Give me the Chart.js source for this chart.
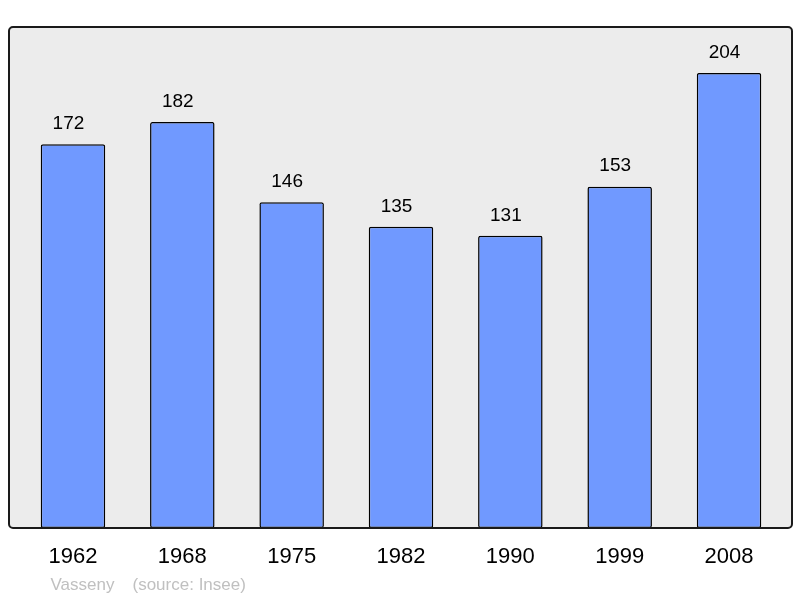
<!DOCTYPE html>
<html>
<head>
<meta charset="utf-8">
<script src="https://cdn.jsdelivr.net/npm/chart.js@4"></script>
<style>
  html, body { margin: 0; padding: 0; background: #ffffff; }
  #wrap { width: 800px; height: 598px; }
</style>
</head>
<body>
<div id="wrap"><canvas id="myChart" width="800" height="598"></canvas></div>
<script>
const ctx = document.querySelector('#myChart');

const years = ['1962', '1968', '1975', '1982', '1990', '1999', '2008'];
const population = [172, 182, 146, 135, 131, 153, 204];
const placeName = 'Vasseny';
const sourceName = '(source: Insee)';

const COLOR_BAR = '#7099ff';
const COLOR_PANEL = '#ececec';
const COLOR_BORDER = '#1a1a1a';
const Y_MAX_SCALE = 224.6;
const FONT = '"Liberation Sans", Arial, sans-serif';

/**
 * Draws the grey panel behind the bars, its frame, the value labels
 * and the source line.
 */
const panelPlugin = {
  id: 'panel',
  beforeDatasetsDraw(chart) {
    const c = chart.ctx;
    const area = chart.chartArea;
    c.save();
    c.beginPath();
    c.roundRect(9, area.top, 783, area.height, 4);
    c.fillStyle = COLOR_PANEL;
    c.fill();
    c.restore();
  },
  afterDatasetsDraw(chart) {
    const c = chart.ctx;
    const area = chart.chartArea;
    c.save();
    c.beginPath();
    c.roundRect(9, area.top, 783, area.height, 4);
    c.lineWidth = 2;
    c.strokeStyle = COLOR_BORDER;
    c.stroke();

    // value labels above the bars (sit a little left of the bar centre)
    const meta = chart.getDatasetMeta(0);
    c.fillStyle = '#000000';
    c.font = '19px ' + FONT;
    c.textAlign = 'center';
    c.textBaseline = 'middle';
    meta.data.forEach((bar, i) => {
      c.fillText(String(population[i]), bar.x - 4.5, bar.y - 20.5);
    });

    // source line
    c.fillStyle = '#c0c0c0';
    c.font = '17px ' + FONT;
    c.textAlign = 'left';
    c.textBaseline = 'alphabetic';
    c.fillText(placeName, 50.5, 590);
    c.fillText(sourceName, 132.5, 590);
    c.restore();
  },
};

new Chart(ctx, {
  type: 'bar',
  data: {
    labels: years,
    datasets: [
      {
        data: population,
        backgroundColor: COLOR_BAR,
        borderColor: '#000000',
        borderWidth: 1.5,
        borderRadius: 2,
        borderSkipped: false,
        barPercentage: 0.59,
        categoryPercentage: 1,
      },
    ],
  },
  options: {
    responsive: false,
    animation: false,
    layout: {
      padding: {left: 18.3, right: 16.3, top: 27, bottom: 0},
    },
    plugins: {
      legend: {display: false},
      tooltip: {enabled: false},
    },
    scales: {
      x: {
        grid: {display: false, drawTicks: false},
        border: {display: false},
        ticks: {
          color: '#000000',
          padding: 16,
          font: {size: 22, family: FONT},
        },
        afterFit: (scale) => {
          scale.height = 70;
        },
      },
      y: {
        display: false,
        min: 0,
        max: Y_MAX_SCALE,
      },
    },
  },
  plugins: [panelPlugin],
});
</script>
</body>
</html>
